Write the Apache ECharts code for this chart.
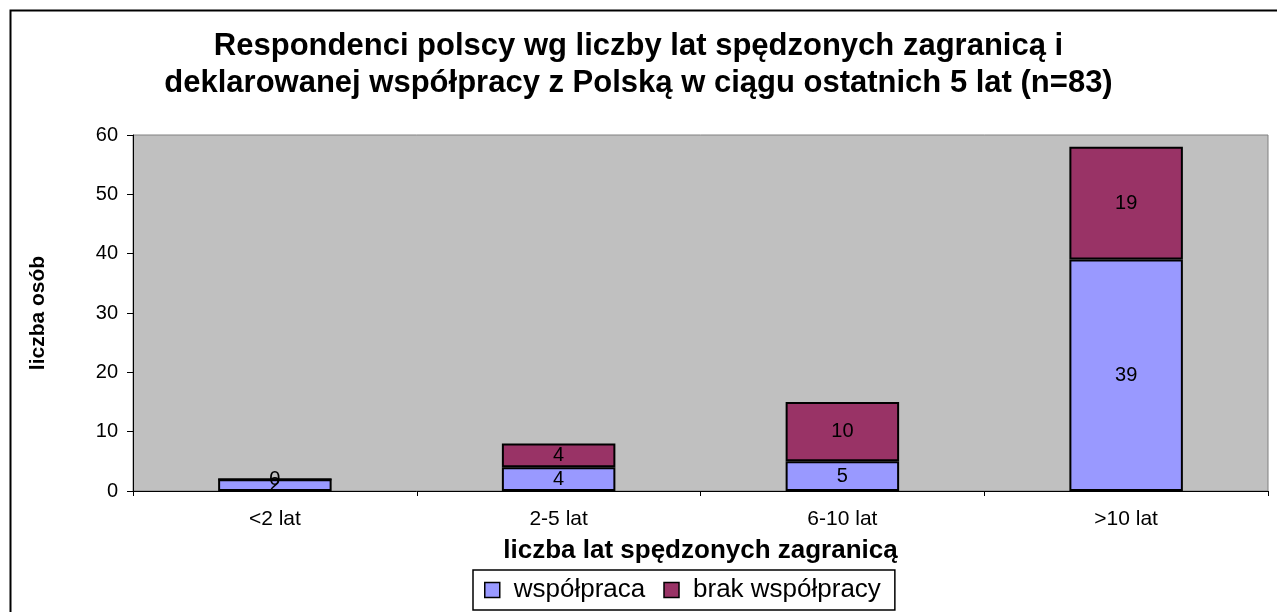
<!DOCTYPE html>
<html>
<head>
    <meta charset="UTF-8">
    <title>Respondenci polscy</title>
    <script src="https://cdn.jsdelivr.net/npm/echarts@6/dist/echarts.min.js"></script>
    <style>
        html, body { margin: 0; padding: 0; background: #fff; }
        #chart { width: 1277px; height: 612px; }
    </style>
</head>
<body>
<div id="chart"></div>
<script>
    // dane
    var categories = ['<2 lat', '2-5 lat', '6-10 lat', '>10 lat'];
    var wspolpraca = [2, 4, 5, 39];
    var brakWspolpracy = [0, 4, 10, 19];
    var yTicks = [0, 10, 20, 30, 40, 50, 60];

    var font = 'Arial, "Liberation Sans", sans-serif';
    var myChart = echarts.init(document.getElementById('chart'));

    var option = {
        animation: false,
        textStyle: { fontFamily: font, color: '#000' },
        title: {
            text: 'Respondenci polscy wg liczby lat spędzonych zagranicą i\ndeklarowanej współpracy z Polską w ciągu ostatnich 5 lat (n=83)',
            left: 'center',
            top: 23,
            textStyle: { fontFamily: font, fontSize: 31, fontWeight: 'bold', color: '#000', lineHeight: 37 }
        },
        graphic: [{
            type: 'rect',
            shape: { x: 10.5, y: 10.5, width: 1275, height: 610 },
            style: { fill: 'none', stroke: '#000', lineWidth: 2 },
            silent: true
        }],
        legend: {
            bottom: 2,
            left: 473,
            icon: 'rect',
            itemWidth: 15,
            itemHeight: 15,
            itemGap: 18,
            borderColor: '#000',
            borderWidth: 1.5,
            padding: [7, 14, 7, 11],
            itemStyle: { borderColor: '#000', borderWidth: 1.5 },
            textStyle: { fontFamily: font, fontSize: 26, color: '#000', padding: [0, 0, 0, 9] },
            data: ['współpraca', 'brak współpracy']
        },
        grid: {
            left: 133,
            right: 9,
            top: 135,
            bottom: 121,
            show: true,
            backgroundColor: '#C0C0C0',
            borderColor: '#808080',
            borderWidth: 1
        },
        xAxis: {
            type: 'category',
            data: categories,
            name: 'liczba lat spędzonych zagranicą',
            nameLocation: 'middle',
            nameGap: 47,
            nameTextStyle: { fontFamily: font, fontSize: 26, fontWeight: 'bold', color: '#000' },
            axisLine: { lineStyle: { color: '#000', width: 1 } },
            axisTick: { show: true, length: 5, alignWithLabel: false, lineStyle: { color: '#000' } },
            axisLabel: { fontFamily: font, fontSize: 21, color: '#000', margin: 18 }
        },
        yAxis: {
            type: 'value',
            min: yTicks[0],
            max: yTicks[yTicks.length - 1],
            interval: 10,
            name: 'liczba osób',
            nameLocation: 'middle',
            nameGap: 84,
            nameRotate: 90,
            nameTextStyle: { fontFamily: font, fontSize: 21, fontWeight: 'bold', color: '#000' },
            axisLine: { show: true, lineStyle: { color: '#000', width: 1 } },
            axisTick: { show: true, length: 6, lineStyle: { color: '#000' } },
            splitLine: { show: false },
            axisLabel: { fontFamily: font, fontSize: 20, color: '#000', margin: 15 }
        },
        series: [
            {
                name: 'współpraca',
                type: 'bar',
                stack: 'razem',
                barWidth: '40%',
                data: wspolpraca,
                itemStyle: { color: '#9999FF', borderColor: '#000', borderWidth: 2 },
                label: { show: true, position: 'inside', fontFamily: font, fontSize: 20, color: '#000' }
            },
            {
                name: 'brak współpracy',
                type: 'bar',
                stack: 'razem',
                barWidth: '40%',
                data: brakWspolpracy,
                itemStyle: { color: '#993366', borderColor: '#000', borderWidth: 2 },
                label: { show: true, position: 'inside', fontFamily: font, fontSize: 20, color: '#000' }
            }
        ]
    };

    myChart.setOption(option, true);
</script>
</body>
</html>
